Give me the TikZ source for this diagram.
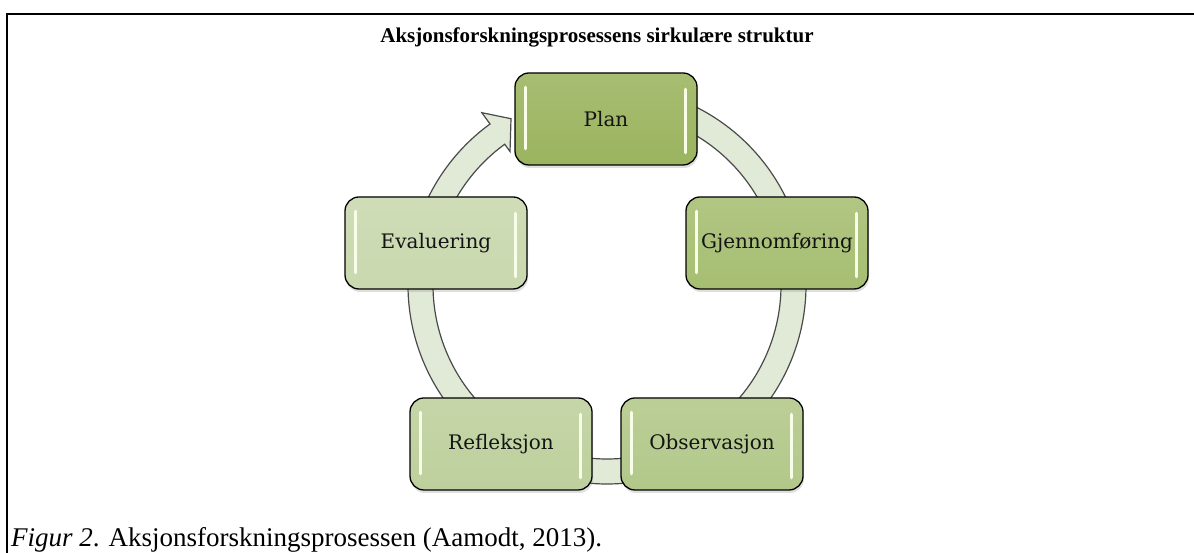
\documentclass[tikz,border=0pt]{standalone}
\usepackage{fontspec}
\setmainfont{Liberation Serif}
\newfontfamily\stagefont{DejaVu Serif}
\usetikzlibrary{shadows}

\definecolor{bandfill}{HTML}{E1E9D7}
\definecolor{bandline}{HTML}{4A4A4A}
\definecolor{glintcol}{HTML}{F8FDE8}
\definecolor{greenA}{HTML}{9BB45F}
\definecolor{greenB}{HTML}{A6BE72}
\definecolor{greenC}{HTML}{B2C889}
\definecolor{greenD}{HTML}{BED09D}
\definecolor{greenE}{HTML}{C9D8AE}

\tikzset{
  stage/.style={draw=black, line width=1.3pt, rounded corners=14pt,
    minimum width=182pt, minimum height=92pt, inner sep=0pt,
    top color=#1!88!white, bottom color=#1, text=black!92,
    font=\stagefont\fontsize{20}{24}\selectfont,
    drop shadow={opacity=0.25, shadow xshift=1pt, shadow yshift=-3pt}},
  band/.style={draw=bandline, line width=1.2pt, fill=bandfill},
  glint/.style={draw=glintcol, line width=3.5pt, line cap=round}
}

\begin{document}
\begin{tikzpicture}[x=1pt,y=1pt]
  \useasboundingbox (0,0) rectangle (1194,553);

  % frame
  \draw[line width=2pt] (7,0) -- (7,539) -- (1194,539);
  \node[font=\bfseries\fontsize{21}{25}\selectfont] (title) at (597,516)
    {Aksjonsforskningsprosessens sirkulære struktur};

  % circular band
  \begin{scope}[shift={(607,268)}]
    \foreach \a/\b in {90/14, 14/-57, -57/-123, -123/-194}{
      \draw[band] (\a:199) arc[start angle=\a, end angle=\b, radius=199]
        -- (\b:174) arc[start angle=\b, end angle=\a, radius=174] -- cycle;
    }
    \draw[band] (166:199) arc[start angle=166, end angle=126, radius=199]
      -- (126:213) -- (120:192) -- (126:165) -- (126:174)
      arc[start angle=126, end angle=166, radius=174] -- cycle;
  \end{scope}

  % stages
  \node[stage=greenA] (plan) at (606,434) {Plan};
  \node[stage=greenB] (gjen) at (777,310) {Gjennomføring};
  \node[stage=greenC] (obs)  at (712,109) {Observasjon};
  \node[stage=greenD] (refl) at (501,109) {Refleksjon};
  \node[stage=greenE] (eval) at (436,310) {Evaluering};

  \foreach \n in {plan,gjen,obs,refl,eval}{
    \draw[glint] ([xshift=11pt,yshift=-15pt]\n.north west) -- ([xshift=11pt,yshift=17pt]\n.south west);
    \draw[glint] ([xshift=-12pt,yshift=-17pt]\n.north east) -- ([xshift=-12pt,yshift=13pt]\n.south east);
  }

  \node[anchor=base west, font=\fontsize{27}{31}\selectfont, inner sep=0pt] (caption) at (11,6)
    {\textit{Figur 2}. Aksjonsforskningsprosessen (Aamodt, 2013).};
\end{tikzpicture}
\end{document}
